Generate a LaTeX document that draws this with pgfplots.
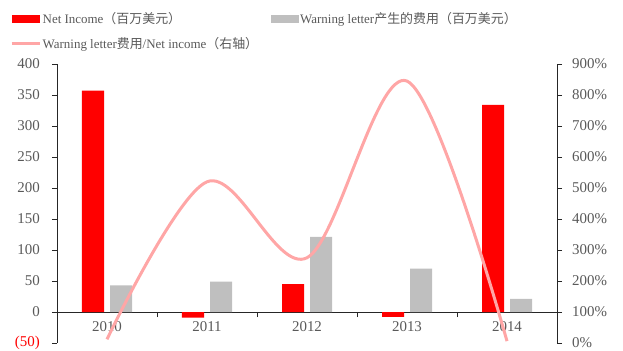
\documentclass[border=0pt]{standalone}
\usepackage{pgfplots}
\pgfplotsset{compat=1.18}
\usepackage{fontspec}
\setmainfont{Liberation Serif}
\newfontfamily\cjk{Noto Sans CJK SC}
\definecolor{netred}{HTML}{FF0000}
\definecolor{wlgray}{HTML}{BFBFBF}
\definecolor{ratiopink}{HTML}{FFA6A6}
\definecolor{txtgray}{HTML}{595959}
\definecolor{axisline}{HTML}{262626}
\newcommand{\tickfont}{\fontsize{15}{17}\selectfont}
\newcommand{\legfont}{\fontsize{13}{15}\selectfont}
\begin{document}
\begin{tikzpicture}
\useasboundingbox (0,0) rectangle (623bp,351bp);
% left axis: bars in millions of USD
\begin{axis}[
  at={(57bp,8bp)}, anchor=south west,
  scale only axis, width=500bp, height=279bp,
  xmin=-0.5, xmax=4.5, ymin=-50, ymax=400,
  axis y line*=left, axis x line*=middle,
  axis line style={axisline, line width=0.8pt},
  xtick={0,1,2,3,4},
  xticklabels={2010,2011,2012,2013,2014},
  minor xtick={0.5,1.5,2.5,3.5},
  major x tick style={draw=none},
  minor x tick style={axisline, line width=0.8pt},
  minor tick length=5bp,
  ytick={-50,0,50,100,150,200,250,300,350,400},
  yticklabels={{\textcolor{netred}{(50)}},0,50,100,150,200,250,300,350,400},
  y tick style={axisline, line width=0.8pt},
  major tick length=5bp,
  tick align=outside,
  every tick label/.append style={font=\tickfont, text=txtgray},
  /pgf/number format/assume math mode=true,
  xticklabel style={yshift=-1bp},
  yticklabel style={inner sep=0pt, xshift=-12bp},
  legend columns=2,
  legend cell align=left,
  legend style={
    at={(-0.094,1.19)}, anchor=north west, draw=none, fill=none,
    font=\legfont, text=txtgray, inner sep=0pt,
    row sep=9bp,
    /tikz/every even column/.append style={column sep=11bp},
    nodes={inner sep=1.5bp}
  },
]
\addplot[ybar, fill=netred, draw=none, bar width=22bp, bar shift=-14bp,
  legend image code/.code={\fill[netred] (0bp,-4bp) rectangle (28bp,4bp);}]
  coordinates {(0,357) (1,-9) (2,45) (3,-8) (4,334)};
\addlegendentry{Net Income{\cjk （百万美元）}}
\addplot[ybar, fill=wlgray, draw=none, bar width=22bp, bar shift=14bp,
  legend image code/.code={\fill[wlgray] (0bp,-4bp) rectangle (28bp,4bp);}]
  coordinates {(0,43) (1,49) (2,121) (3,70) (4,21)};
\addlegendentry{Warning letter{\cjk 产生的费用（百万美元）}}
\addlegendimage{legend image code/.code={\draw[ratiopink, line width=3bp] (0bp,0bp) -- (28bp,0bp);}}
\addlegendentry{Warning letter{\cjk 费用}/Net income{\cjk （右轴）}}
\end{axis}
% right axis: ratio in percent
\begin{axis}[
  at={(57bp,8bp)}, anchor=south west,
  scale only axis, width=500bp, height=279bp,
  xmin=-0.5, xmax=4.5, ymin=0, ymax=900,
  axis y line*=right, axis x line=none,
  axis line style={axisline, line width=0.8pt},
  ytick={0,100,...,900},
  yticklabel={\pgfmathprintnumber{\tick}\%},
  y tick style={axisline, line width=0.8pt},
  major tick length=5bp,
  tick align=outside,
  every tick label/.append style={font=\tickfont, text=txtgray},
  /pgf/number format/assume math mode=true,
  yticklabel style={inner sep=0pt, xshift=10bp},
]
\addplot[smooth, tension=0.55, ratiopink, line width=3bp]
  coordinates {(0,12) (1,520) (2,275) (3,845) (4,6)};
\end{axis}
\end{tikzpicture}
\end{document}
